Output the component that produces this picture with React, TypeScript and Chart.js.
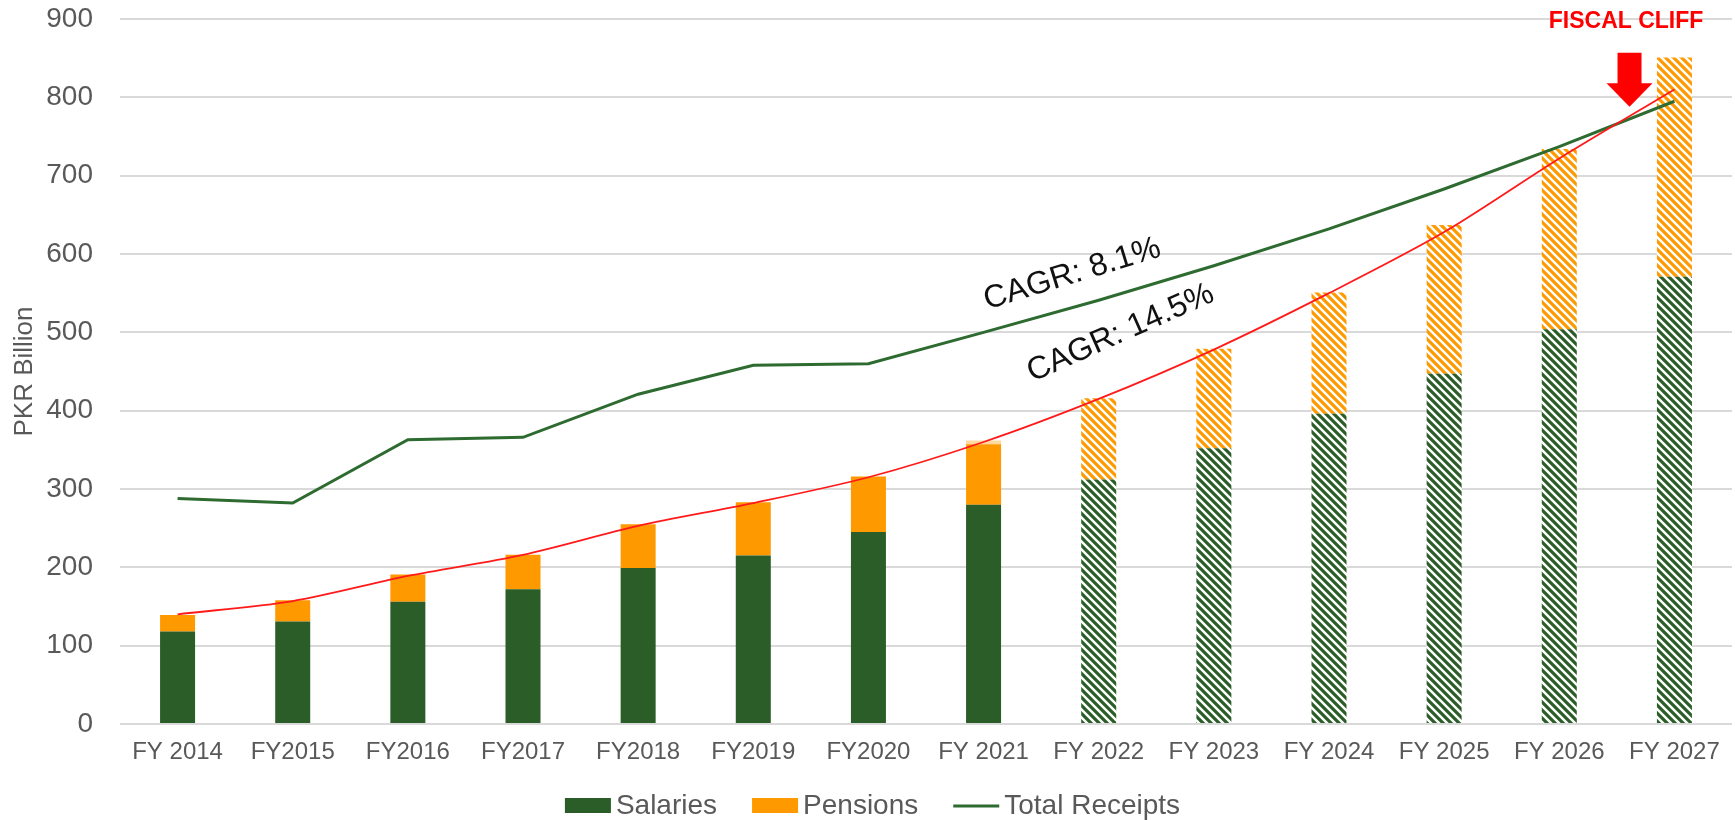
import React, { useEffect, useRef } from "react";
import { Chart, registerables } from "chart.js";

Chart.register(...registerables);

const categories = [
  "FY 2014", "FY2015", "FY2016", "FY2017", "FY2018", "FY2019", "FY2020",
  "FY 2021", "FY 2022", "FY 2023", "FY 2024", "FY 2025", "FY 2026", "FY 2027",
];
const salaries = [118, 131, 156, 172, 199, 215, 245, 280, 312, 352, 396, 447, 504, 571];
const pensions = [21, 27, 35, 44, 56, 68, 71, 77, 104, 127, 155, 190, 230, 280];
const pensionsFaded = [0, 0, 0, 0, 0, 0, 0, 5, 0, 0, 0, 0, 0, 0];
const totalReceipts = [288, 282, 363, 366, 421, 458, 460, 500, 541, 585, 632, 683, 737, 795];
const expenditureTrend = [140, 157, 189, 216, 253, 282, 315, 360, 415, 478, 550, 628, 722, 810];
const firstProjectionIndex = 8;
const yMin = 0;
const yMax = 900;
const yStep = 100;
const legendLabels = ["Salaries", "Pensions", "Total Receipts"];
const cagrLabels = ["CAGR: 8.1%", "CAGR: 14.5%"];
const cliffLabel = "FISCAL CLIFF";

const FONT = "'Liberation Sans', Arial, Helvetica, sans-serif";
const GREEN = "#2a5d27";
const ORANGE = "#ff9900";
const LINE_GREEN = "#2e6b30";
const RED = "#ff1a1a";
const GREY_TEXT = "#595959";

function makeHatch(target: CanvasRenderingContext2D, color: string) {
  const s = 8;
  const c = document.createElement("canvas");
  c.width = s;
  c.height = s;
  const g = c.getContext("2d")!;
  g.fillStyle = "#ffffff";
  g.fillRect(0, 0, s, s);
  g.strokeStyle = color;
  g.lineWidth = 3.2;
  g.beginPath();
  g.moveTo(-2, -2);
  g.lineTo(s + 2, s + 2);
  g.moveTo(-2, s - 2);
  g.lineTo(2, s + 2);
  g.moveTo(s - 2, -2);
  g.lineTo(s + 2, 2);
  g.stroke();
  return target.createPattern(c, "repeat") as CanvasPattern;
}

const overlayPlugin = {
  id: "overlay",
  afterDatasetsDraw(chart: any) {
    const ctx: CanvasRenderingContext2D = chart.ctx;
    const xs = chart.scales.x;
    const ys = chart.scales.y;

    // CAGR annotations
    const drawRot = (text: string, xv: number, yv: number, deg: number) => {
      ctx.save();
      ctx.translate(xs.getPixelForValue(xv), ys.getPixelForValue(yv));
      ctx.rotate((deg * Math.PI) / 180);
      ctx.font = `32px ${FONT}`;
      ctx.fillStyle = "#111111";
      ctx.textAlign = "center";
      ctx.textBaseline = "middle";
      ctx.fillText(text, 0, 0);
      ctx.restore();
    };
    drawRot(cagrLabels[0], 7.77, 574, -17);
    drawRot(cagrLabels[1], 8.19, 499, -24);

    // Fiscal cliff label
    ctx.save();
    ctx.font = `bold 23px ${FONT}`;
    ctx.fillStyle = "#ff0000";
    ctx.textAlign = "center";
    ctx.textBaseline = "middle";
    ctx.fillText(cliffLabel, xs.getPixelForValue(12.58), ys.getPixelForValue(897));
    ctx.restore();

    // Arrow
    const ax = xs.getPixelForValue(12.61);
    const top = ys.getPixelForValue(857);
    const neck = ys.getPixelForValue(818);
    const tip = ys.getPixelForValue(788);
    ctx.save();
    ctx.fillStyle = "#ff0000";
    ctx.beginPath();
    ctx.moveTo(ax - 12, top);
    ctx.lineTo(ax + 12, top);
    ctx.lineTo(ax + 12, neck);
    ctx.lineTo(ax + 23, neck);
    ctx.lineTo(ax, tip);
    ctx.lineTo(ax - 23, neck);
    ctx.lineTo(ax - 12, neck);
    ctx.closePath();
    ctx.fill();
    ctx.restore();
  },
  afterDraw(chart: any) {
    const ctx: CanvasRenderingContext2D = chart.ctx;
    ctx.save();
    ctx.font = `28px ${FONT}`;
    const boxW = 46;
    const gap = 5;
    const itemGap = 35;
    const widths = legendLabels.map((t) => ctx.measureText(t).width);
    const total = widths.reduce((a, b) => a + b, 0) + 3 * (boxW + gap) + 2 * itemGap;
    let x = chart.width / 2 + 5 - total / 2;
    const y = 806;
    legendLabels.forEach((label, i) => {
      if (i < 2) {
        ctx.fillStyle = i === 0 ? GREEN : ORANGE;
        ctx.fillRect(x, y - 8, boxW, 15);
      } else {
        ctx.strokeStyle = LINE_GREEN;
        ctx.lineWidth = 3;
        ctx.beginPath();
        ctx.moveTo(x, y);
        ctx.lineTo(x + boxW, y);
        ctx.stroke();
      }
      x += boxW + gap;
      ctx.fillStyle = GREY_TEXT;
      ctx.textAlign = "left";
      ctx.textBaseline = "middle";
      ctx.fillText(label, x, y);
      x += widths[i] + itemGap;
    });
    ctx.restore();
  },
};

export default function App() {
  const canvasRef = useRef<HTMLCanvasElement | null>(null);

  useEffect(() => {
    const canvas = canvasRef.current;
    if (!canvas) return;
    const ctx = canvas.getContext("2d")!;
    const greenHatch = makeHatch(ctx, GREEN);
    const orangeHatch = makeHatch(ctx, ORANGE);
    Chart.defaults.font.family = FONT;

    const chart = new Chart(canvas, {
      type: "bar",
      data: {
        labels: categories,
        datasets: [
          {
            type: "line",
            label: "Expenditure trend",
            data: expenditureTrend,
            borderColor: RED,
            borderWidth: 1.8,
            pointRadius: 0,
            tension: 0.3,
            stack: "trend",
            order: 1,
          } as any,
          {
            type: "line",
            label: legendLabels[2],
            data: totalReceipts,
            borderColor: LINE_GREEN,
            borderWidth: 3,
            pointRadius: 0,
            tension: 0,
            stack: "receipts",
            order: 2,
          } as any,
          {
            label: legendLabels[0],
            data: salaries,
            backgroundColor: (c: any) => (c.dataIndex >= firstProjectionIndex ? greenHatch : GREEN),
            stack: "exp",
            order: 3,
            barPercentage: 0.304,
            categoryPercentage: 1,
          },
          {
            label: legendLabels[1],
            data: pensions,
            backgroundColor: (c: any) => (c.dataIndex >= firstProjectionIndex ? orangeHatch : ORANGE),
            stack: "exp",
            order: 3,
            barPercentage: 0.304,
            categoryPercentage: 1,
          },
          {
            label: "Pensions (partial)",
            data: pensionsFaded,
            backgroundColor: "#ffd9a0",
            stack: "exp",
            order: 3,
            barPercentage: 0.304,
            categoryPercentage: 1,
          },
        ],
      },
      options: {
        animation: false,
        responsive: true,
        maintainAspectRatio: false,
        layout: { padding: { top: 19, right: 3, left: 0, bottom: 0 } },
        plugins: {
          legend: { display: false },
          tooltip: { enabled: false },
        },
        scales: {
          x: {
            stacked: true,
            grid: { display: false, drawTicks: false },
            border: { display: false },
            ticks: {
              color: GREY_TEXT,
              font: { size: 24, family: FONT },
              padding: 14,
              maxRotation: 0,
              autoSkip: false,
            },
            afterFit: (s: any) => {
              s.height = 96;
              s.paddingLeft = 0;
              s.paddingRight = 0;
            },
          },
          y: {
            stacked: true,
            min: yMin,
            max: yMax,
            grid: { color: "#d9d9d9", lineWidth: 2, drawTicks: false },
            border: { display: false },
            ticks: {
              stepSize: yStep,
              color: GREY_TEXT,
              font: { size: 28, family: FONT },
              padding: 27,
            },
            title: {
              display: true,
              text: "PKR Billion",
              color: GREY_TEXT,
              font: { size: 26, family: FONT },
              padding: { top: 9, bottom: 0 },
            },
            afterFit: (s: any) => {
              s.width = 120;
              s.paddingTop = 0;
              s.paddingBottom = 0;
            },
          },
        },
      },
      plugins: [overlayPlugin],
    });
    return () => chart.destroy();
  }, []);

  return (
    <div style={{ position: "fixed", left: 0, top: 0, width: 1735, height: 820, background: "#fff" }}>
      <canvas ref={canvasRef} />
    </div>
  );
}
